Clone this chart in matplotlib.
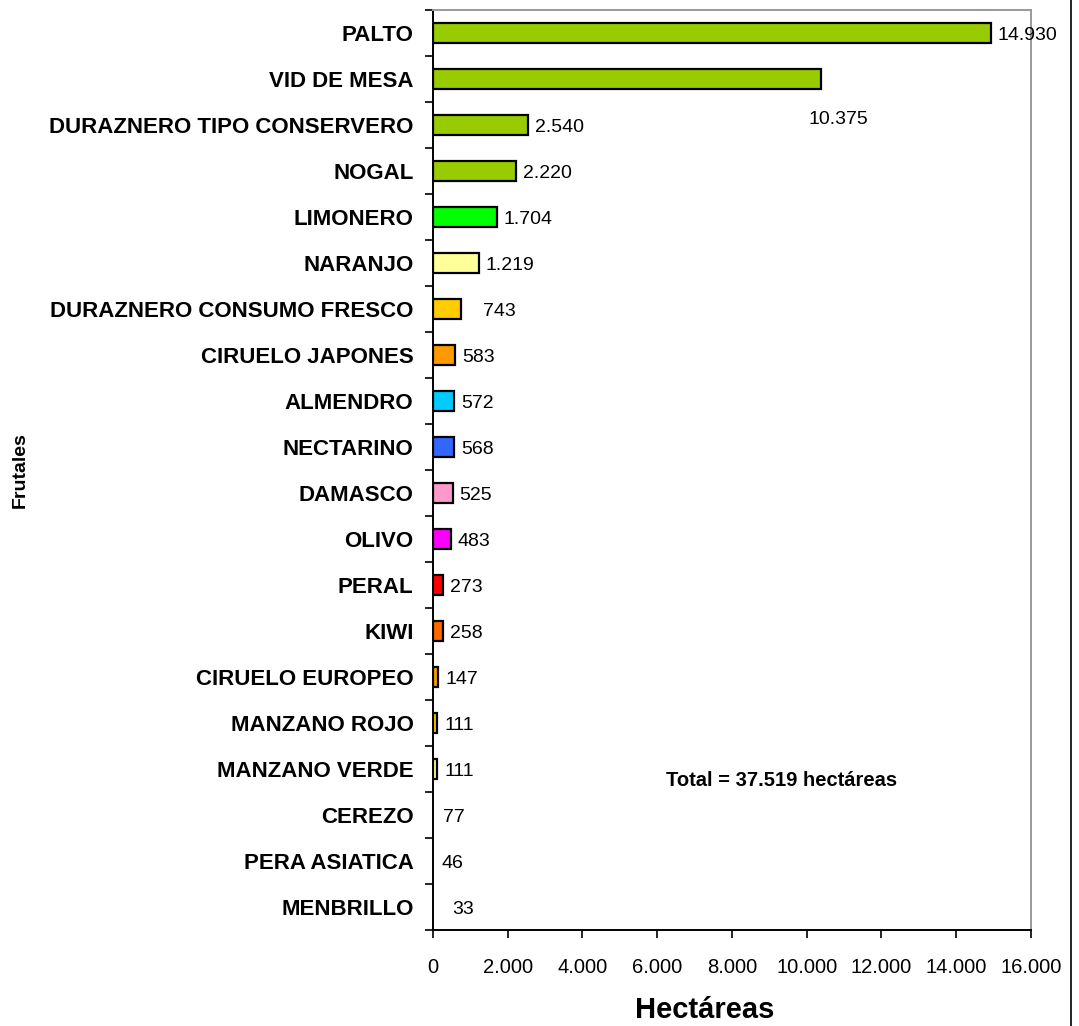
import matplotlib
matplotlib.use("Agg")
import matplotlib.pyplot as plt
import numpy as np

categories = ["PALTO", "VID DE MESA", "DURAZNERO TIPO CONSERVERO", "NOGAL", "LIMONERO",
              "NARANJO", "DURAZNERO CONSUMO FRESCO", "CIRUELO JAPONES", "ALMENDRO",
              "NECTARINO", "DAMASCO", "OLIVO", "PERAL", "KIWI", "CIRUELO EUROPEO",
              "MANZANO ROJO", "MANZANO VERDE", "CEREZO", "PERA ASIATICA", "MENBRILLO"]
hectareas = [14930, 10375, 2540, 2220, 1704, 1219, 743, 583, 572, 568, 525, 483,
             273, 258, 147, 111, 111, 77, 46, 33]
colors = ["#99CC00", "#99CC00", "#99CC00", "#99CC00", "#00FF00", "#FFFF99", "#FFCC00",
          "#FF9900", "#00CCFF", "#3366FF", "#FF99CC", "#FF00FF", "#FF0000", "#FF6600",
          "#FF9900", "#FFCC00", "#FFFF99", "none", "none", "none"]
xticks = [0, 2000, 4000, 6000, 8000, 10000, 12000, 14000, 16000]
total_text = "Total = 37.519 hectáreas"

# label offsets in points (dx, dy) - style only
label_offsets = {1: (-9, -29)}
extra_dx = {6: 11, 19: 8}

plt.rcParams['font.family'] = ['Liberation Sans', 'DejaVu Sans']

fig = plt.figure(figsize=(10.79, 10.26), dpi=100)
ax = fig.add_axes([0.4013, 0.0936, 0.5542, 0.8967])

n = len(categories)
y = np.arange(n)
for i, (v, c) in enumerate(zip(hectareas, colors)):
    ec = "black" if c != "none" else "none"
    ax.barh(y[i], v, height=0.42, color=c, edgecolor=ec, linewidth=1.6)

def fmt(v):
    return f"{v:,}".replace(",", ".")

for i, v in enumerate(hectareas):
    if i in label_offsets:
        dx, dy = label_offsets[i]
    else:
        dx, dy = 5 + extra_dx.get(i, 0), -1.5
    ax.annotate(fmt(v), xy=(v, y[i]), xytext=(dx, dy), textcoords="offset points",
                ha="left", va="center", fontsize=14, annotation_clip=False)

ax.set_xlim(0, 16000)
ax.set_ylim(n - 0.5, -0.5)
ax.set_xticks(xticks)
ax.set_xticklabels([fmt(t) for t in xticks], fontsize=14.5)
ax.tick_params(axis="x", length=6, width=1.2, pad=14, direction="out")
ax.set_yticks(y)
ax.set_yticklabels(categories, fontsize=16, fontweight="bold")
ax.tick_params(axis="y", length=0, pad=14)
ax.set_yticks(np.arange(-0.5, n, 1), minor=True)
ax.tick_params(axis="y", which="minor", length=6, width=1.2)

for s in ["left", "bottom"]:
    ax.spines[s].set_color("black")
    ax.spines[s].set_linewidth(1.4)
for s in ["top", "right"]:
    ax.spines[s].set_color("#999999")
    ax.spines[s].set_linewidth(1.4)

fig.text(705 / 1079, 1 - 1010 / 1026, "Hectáreas", fontsize=21, fontweight="bold",
         ha="center", va="center")
fig.text(20 / 1079, 1 - 470 / 1026, "Frutales", rotation=90, fontsize=14,
         fontweight="bold", ha="center", va="center")
ax.text(0.39, 0.162, total_text, transform=ax.transAxes, fontsize=14.5,
        fontweight="bold", ha="left", va="center")

fig.add_artist(plt.Line2D([0.9925, 0.9925], [0, 1], transform=fig.transFigure,
                          color="black", linewidth=1.2))

fig.savefig("out.png", dpi=100)
